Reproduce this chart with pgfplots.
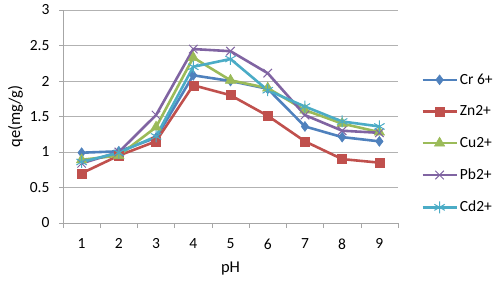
\documentclass[border=0pt]{standalone}
\usepackage{pgfplots}
\pgfplotsset{compat=1.18}
\usepackage{fontspec}
\setmainfont{Carlito}
\definecolor{cA}{HTML}{4F81BD}
\definecolor{cB}{HTML}{C0504D}
\definecolor{cC}{HTML}{9BBB59}
\definecolor{cD}{HTML}{8064A2}
\definecolor{cE}{HTML}{4BACC6}
\begin{document}
\begin{tikzpicture}
\path (0pt,0pt) rectangle (500pt,282pt);
\begin{axis}[
  at={(63pt,59pt)}, anchor=south west,
  scale only axis, width=335pt, height=213pt,
  xmin=0.5, xmax=9.5, ymin=0, ymax=3,
  xtick={1,...,9}, minor xtick={0.5,1.5,...,9.5},
  ytick={0,0.5,...,3},
  yticklabels={0,0.5,1,1.5,2,2.5,3},
  major x tick style={draw=none},
  minor x tick style={gray!70, thin},
  major y tick style={gray!70, thin},
  tick align=outside,
  minor tick length=5pt, major tick length=4pt,
  axis x line*=bottom, axis y line*=left,
  axis line style={gray!70, thin, -},
  ymajorgrids, major grid style={gray!60, thin},
  every tick label/.append style={font=\fontsize{15.5}{17}\selectfont},
  /pgf/number format/assume math mode=true,
  yticklabel style={xshift=-6pt},
  xticklabel style={yshift=-8pt},
  xlabel={pH}, ylabel={qe(mg/g)},
  label style={font=\fontsize{16.5}{18}\selectfont},
  xlabel style={yshift=-6pt},
  ylabel style={yshift=0pt},
  legend style={draw=none, at={(1.06,0.72)}, anchor=north west,
     font=\fontsize{15.5}{17}\selectfont, row sep=16pt, fill=none},
  legend cell align=left,
  legend image code/.code={\draw[mark repeat=2,mark phase=2,#1] plot coordinates {(0pt,0pt) (17pt,0pt) (34pt,0pt)};},
  every axis plot/.append style={line width=2.6pt},
]
\addplot[cA, mark=diamond*, mark size=5pt, mark options={solid, line width=0.5pt}] coordinates {
(1,0.99) (2,1.01) (3,1.2) (4,2.08) (5,2.0) (6,1.89) (7,1.36) (8,1.21) (9,1.15)};
\addlegendentry{Cr 6+}
\addplot[cB, mark=square*, mark size=4.5pt, mark options={solid, line width=0.5pt}] coordinates {
(1,0.7) (2,0.95) (3,1.15) (4,1.94) (5,1.8) (6,1.51) (7,1.15) (8,0.9) (9,0.85)};
\addlegendentry{Zn2+}
\addplot[cC, mark=triangle*, mark size=6pt, mark options={solid, line width=0.5pt}] coordinates {
(1,0.89) (2,0.95) (3,1.35) (4,2.33) (5,2.01) (6,1.9) (7,1.59) (8,1.4) (9,1.28)};
\addlegendentry{Cu2+}
\addplot[cD, mark=x, mark size=6pt, mark options={solid, line width=1pt}] coordinates {
(1,0.84) (2,1.0) (3,1.52) (4,2.45) (5,2.42) (6,2.11) (7,1.52) (8,1.3) (9,1.27)};
\addlegendentry{Pb2+}
\addplot[cE, mark=asterisk, mark size=6pt, mark options={solid, line width=1pt}] coordinates {
(1,0.86) (2,0.99) (3,1.22) (4,2.2) (5,2.31) (6,1.87) (7,1.64) (8,1.43) (9,1.36)};
\addlegendentry{Cd2+}
\end{axis}
\end{tikzpicture}
\end{document}
